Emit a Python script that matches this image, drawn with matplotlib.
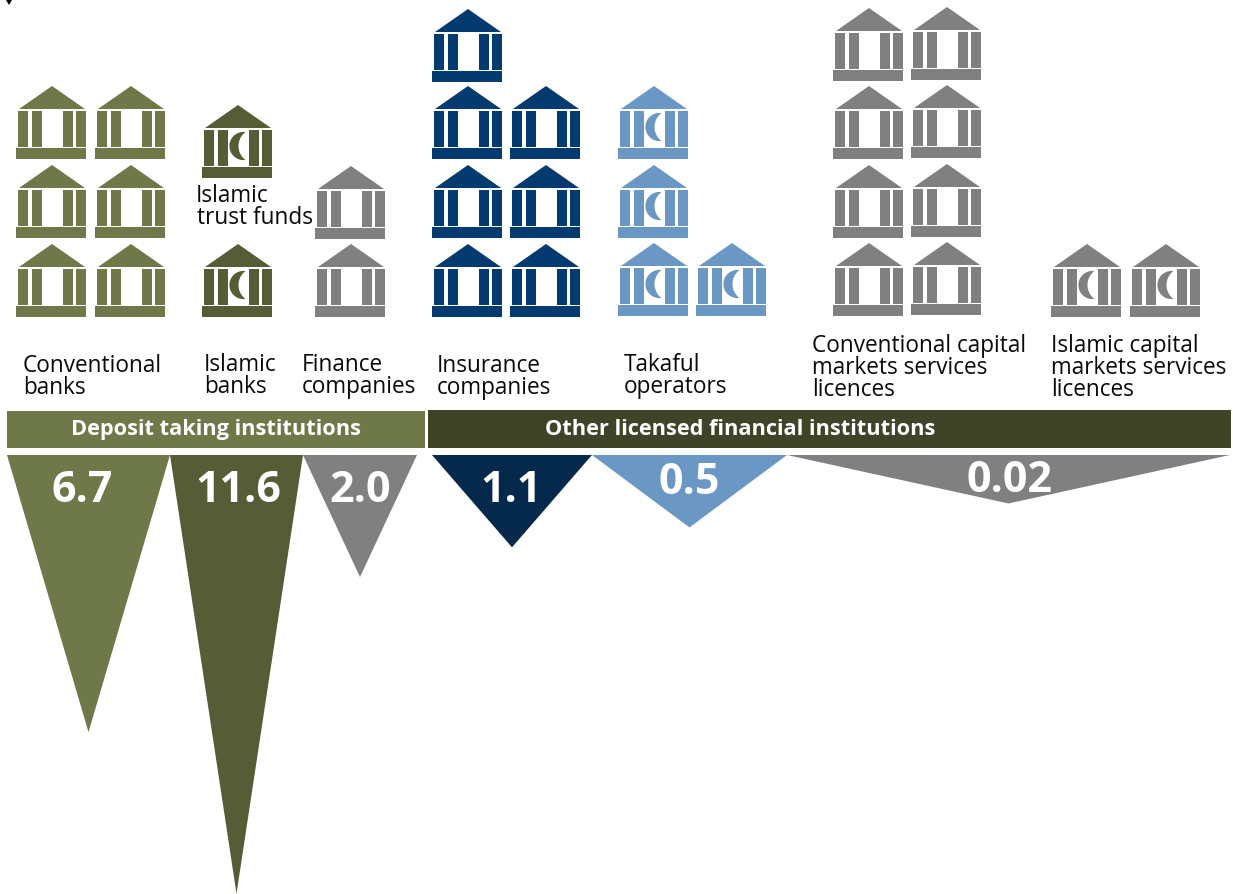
import numpy as np
import matplotlib
matplotlib.use('Agg')
import matplotlib.pyplot as plt
from matplotlib.patches import Polygon, Rectangle

plt.rcParams['font.family'] = ['Open Sans', 'DejaVu Sans']

#Data#
categories = ['Conventional\nbanks', 'Islamic\nbanks', 'Finance\ncompanies', 'Insurance\ncompanies',
              'Takaful\noperators', 'Conventional capital\nmarkets services\nlicences',
              'Islamic capital\nmarkets services\nlicences']
institutions_per_row = [[2, 2, 2], [1, 1], [1, 1], [2, 2, 2, 1], [2, 1, 1], [2, 2, 2, 2], [2]]
ratio_labels = ['6.7', '11.6', '2.0', '1.1', '0.5', '0.02']
ratio_values = [6.7, 11.6, 2.0, 1.1, 0.5, 0.02]
group_names = ['Deposit taking institutions', 'Other licensed financial institutions']

#Colours#
OLIVE = '#6f7848'
DARK_OLIVE = '#565c35'
HEADER_DARK = '#3f4328'
GREY = '#808080'
NAVY = '#033a70'
NAVY_DARK = '#04294d'
LIGHT_BLUE = '#6a97c4'

#Layout, in pixels from the top left#
icon_cols = [[16, 95], [202], [315], [432, 510], [618, 696], [833, 911], [1051, 1130]]
icon_rows = [[244, 165, 86], [244, 105], [244, 166], [244, 165, 86, 9], [243, 165, 86],
             [243, 165, 86, 8], [244]]
icon_colors = [OLIVE, DARK_OLIVE, GREY, NAVY, LIGHT_BLUE, GREY, GREY]
icon_crescent = [False, True, False, False, True, False, True]
label_pos = [(23, 364), (204, 363), (302, 363), (437, 364), (624, 363), (812, 344), (1051, 344)]
tri_left = [7, 170, 303, 432, 592, 787]
tri_right = [170, 303, 417, 592, 787, 1230]
tri_colors = [OLIVE, DARK_OLIVE, GREY, NAVY_DARK, LIGHT_BLUE, GREY]
tri_label_x = [82, 238, 360, 511, 689, 1009]
tri_label_y = [490, 490, 490, 490, 483, 481]
tri_top = 455
LABEL_SIZE = 16.3

fig = plt.figure(figsize=(12.33, 8.94), dpi=100)
ax = fig.add_axes([0, 0, 1, 1])
ax.set_xlim(0, 1233)
ax.set_ylim(894, 0)
ax.axis('off')


#One building, x and y are the left of the plinth and the roof apex#
def draw_building(x, y, color, crescent):
    ax.add_patch(Polygon([(x + 3, y + 23), (x + 36, y), (x + 69, y + 23)], fc=color, ec='none'))
    for cx in [2, 16, 47, 60]:
        ax.add_patch(Rectangle((x + cx, y + 25), 10, 36, fc=color, ec='none'))
    ax.add_patch(Rectangle((x, y + 62), 70, 11, fc=color, ec='none'))
    if crescent:
        outer = np.radians(np.linspace(82, 278, 40))
        inner = np.radians(np.linspace(233, 127, 40))
        xs = np.r_[x + 41.5 + 14.1 * np.cos(outer), x + 54 + 17.5 * np.cos(inner)]
        ys = np.r_[y + 41 + 14.1 * np.sin(outer), y + 41 + 17.5 * np.sin(inner)]
        ax.add_patch(Polygon(np.c_[xs, ys], fc=color, ec='none'))


#Buildings fill from the bottom row up, left to right#
for i in range(len(categories)):
    for row_y, n in zip(icon_rows[i], institutions_per_row[i]):
        for col_x in icon_cols[i][:n]:
            nudge = -1 if col_x == 911 else 0
            draw_building(col_x, row_y + nudge, icon_colors[i], icon_crescent[i])
    for k, line in enumerate(categories[i].split('\n')):
        ax.text(label_pos[i][0], label_pos[i][1] + 2 + 22 * k, line, fontsize=LABEL_SIZE, color='#0a0a0a',
                ha='left', va='center')

ax.text(196, 196, 'Islamic', fontsize=LABEL_SIZE, color='#0a0a0a', ha='left', va='center')
ax.text(197, 218, 'trust funds', fontsize=LABEL_SIZE, color='#0a0a0a', ha='left', va='center')

#Group headers#
ax.add_patch(Rectangle((7, 411), 418, 37, fc=OLIVE, ec='none'))
ax.add_patch(Rectangle((428, 410), 803, 38, fc=HEADER_DARK, ec='none'))
ax.text(216, 429.5, group_names[0], fontsize=15.7, fontweight='bold', color='white', ha='center', va='center')
ax.text(740, 429.5, group_names[1], fontsize=15.7, fontweight='bold', color='white', ha='center', va='center')


#Tip depth: linear in the value, with a short rise so tiny values still show#
def tip_depth(v):
    return 46 + 33 * v + 10 * (1 - np.exp(-v / 0.1))


for i in range(len(ratio_values)):
    mid = (tri_left[i] + tri_right[i]) / 2
    ax.add_patch(Polygon([(tri_left[i], tri_top), (tri_right[i], tri_top), (mid, tri_top + tip_depth(ratio_values[i]))],
                         fc=tri_colors[i], ec='none'))
    ax.text(tri_label_x[i], tri_label_y[i], ratio_labels[i], fontsize=31, fontweight='bold', color='white',
            ha='center', va='center')

#Small black mark on the top edge#
ax.add_patch(Polygon([(6, 0), (12, 0), (9, 5)], fc='black', ec='none'))

fig.savefig('out.png', dpi=100)
